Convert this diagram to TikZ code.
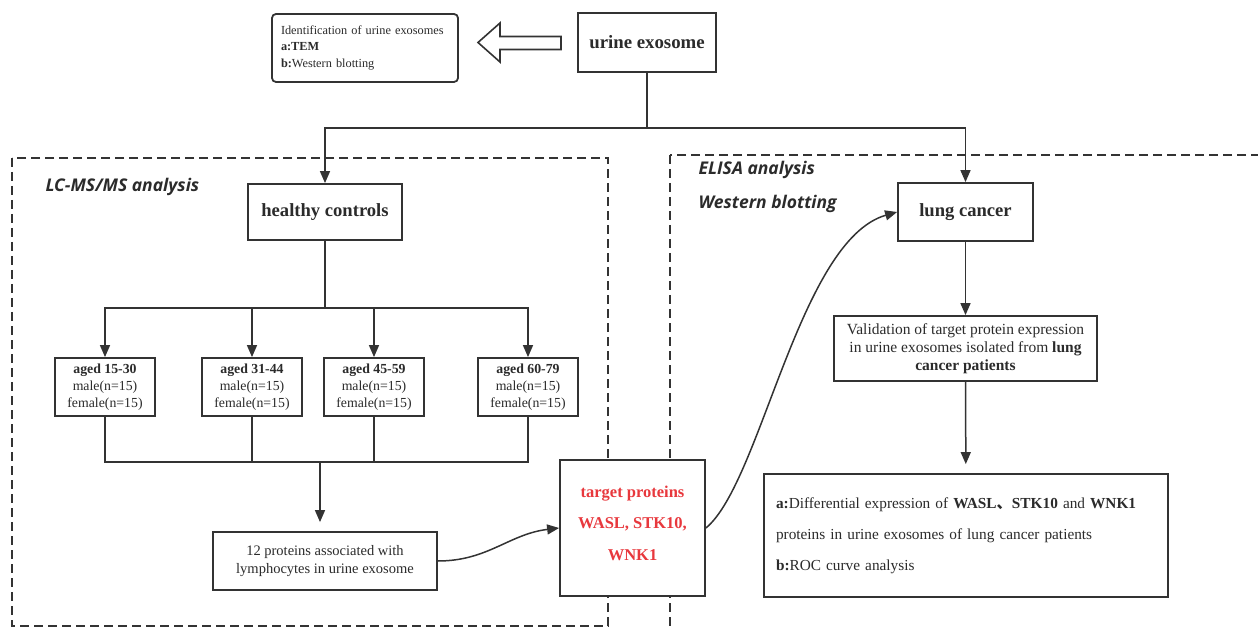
\documentclass[tikz,border=0pt]{standalone}
\usepackage{fontspec}
\setmainfont{Liberation Serif}
\setsansfont{Open Sans}
\newfontfamily\cjkfont{Noto Sans CJK SC}
\usepackage{xcolor}
\usetikzlibrary{arrows.meta}

\definecolor{linegray}{HTML}{333333}
\definecolor{textgray}{HTML}{2B2B2B}
\definecolor{targetred}{HTML}{E8383D}

\begin{document}
\begin{tikzpicture}[x=1pt,y=-1pt,
  box/.style={draw=linegray,line width=1.8pt,fill=white,inner sep=0pt,text=textgray,align=center},
  agebox/.style={box,minimum width=100pt,minimum height=58pt,font=\fontsize{13.8}{17}\selectfont},
  grouplabel/.style={anchor=west,text=textgray,font=\sffamily\bfseries\itshape\fontsize{17.5}{20}\selectfont},
  conn/.style={draw=linegray,line width=1.5pt},
  arr/.style={conn,-{Triangle[length=12pt,width=10pt]}},
  frame/.style={draw=linegray,line width=1.3pt,dash pattern=on 9pt off 5pt}]
  \useasboundingbox (0,0) rectangle (1258,628);
  \begin{scope}
    \clip (0,0) rectangle (1258,628);
    % analysis frames
    \draw[frame] (12,158) rectangle (608,626);
    \draw[frame] (670,155) rectangle (1300,660);
  \end{scope}
  \node[grouplabel] (lcms) at (42,187) {LC-MS/MS analysis};
  \node[grouplabel] (elisa) at (695,170) {ELISA analysis};
  \node[grouplabel] (wb) at (695,204) {Western blotting};

  % top row
  \node[box,rounded corners=4pt,minimum width=186pt,minimum height=68pt,
    text width=168pt,align=left,font=\fontsize{12.3}{16.2}\selectfont] (ident) at (365,48)
    {Identification of urine exosomes\\ \textbf{a:TEM}\\ \textbf{b:}Western blotting};
  \draw[linegray,line width=1.6pt,line join=miter] (561,36.5) -- (500,36.5) -- (500,23)
    -- (478,42.5) -- (500,62) -- (500,49.5) -- (561,49.5) -- cycle;
  \node[box,minimum width=138pt,minimum height=59pt,font=\bfseries\fontsize{18.8}{20}\selectfont] (ue) at (647,42.5) {urine exosome};
  \coordinate (split) at (647,128);

  % healthy controls
  \node[box,minimum width=154pt,minimum height=56pt,font=\bfseries\fontsize{18.6}{20}\selectfont] (hc) at (325,212) {healthy controls};
  \coordinate (hsplit) at (325,308);
  \node[agebox] (a1) at (105,387) {\textbf{aged 15-30}\\ male(n=15)\\ female(n=15)};
  \node[agebox] (a2) at (252,387) {\textbf{aged 31-44}\\ male(n=15)\\ female(n=15)};
  \node[agebox] (a3) at (374,387) {\textbf{aged 45-59}\\ male(n=15)\\ female(n=15)};
  \node[agebox] (a4) at (528,387) {\textbf{aged 60-79}\\ male(n=15)\\ female(n=15)};
  \coordinate (merge) at (320,462);
  \node[box,minimum width=224pt,minimum height=58pt,font=\fontsize{14.5}{18}\selectfont] (prot) at (325,561)
    {12 proteins associated with\\ lymphocytes in urine exosome};

  % target proteins
  \node[box,minimum width=145pt,minimum height=136pt,text=targetred,
    font=\bfseries\fontsize{16.5}{31.5}\selectfont] (tp) at (632.5,528)
    {target proteins\\ WASL, STK10,\\ WNK1\\[-31pt]\strut};

  % lung cancer
  \node[box,minimum width=135pt,minimum height=58pt,font=\bfseries\fontsize{18.6}{20}\selectfont] (lc) at (965.5,212) {lung cancer};
  \node[box,minimum width=263pt,minimum height=65pt,font=\fontsize{15.5}{17.8}\selectfont] (val) at (965.5,348.5)
    {Validation of target protein expression\\ in urine exosomes isolated from \textbf{lung}\\ \textbf{cancer patients}};
  \node[box,minimum width=404pt,minimum height=123pt,text width=380pt,align=left,
    font=\fontsize{15.3}{31}\selectfont] (res) at (966,535.5)
    {\textbf{a:}Differential expression of \textbf{WASL{\cjkfont 、}STK10} and \textbf{WNK1}\\
     proteins in urine exosomes of lung cancer patients\\
     \textbf{b:}ROC curve analysis};

  % connectors
  \draw[conn] (ue) -- (split);
  \draw[arr] (split) -| (hc);
  \draw[arr] (split) -| (lc);
  \draw[conn] (hc) -- (hsplit);
  \foreach \n in {a1,a2,a3,a4} {
    \draw[arr] (hsplit) -| (\n);
    \draw[conn] (\n) |- (merge);
  }
  \draw[arr,shorten >=9pt] (merge) -- (merge |- prot.north);
  \draw[arr] (prot.east) .. controls +(50,0) and +(-50,6) .. (tp.west);
  \draw[arr] (tp.east) .. controls +(55,-45) and +(-98,28) .. (lc.west);
  \draw[arr] (lc) -- (val);
  \draw[arr,shorten >=9pt] (val) -- (res);
\end{tikzpicture}
\end{document}
